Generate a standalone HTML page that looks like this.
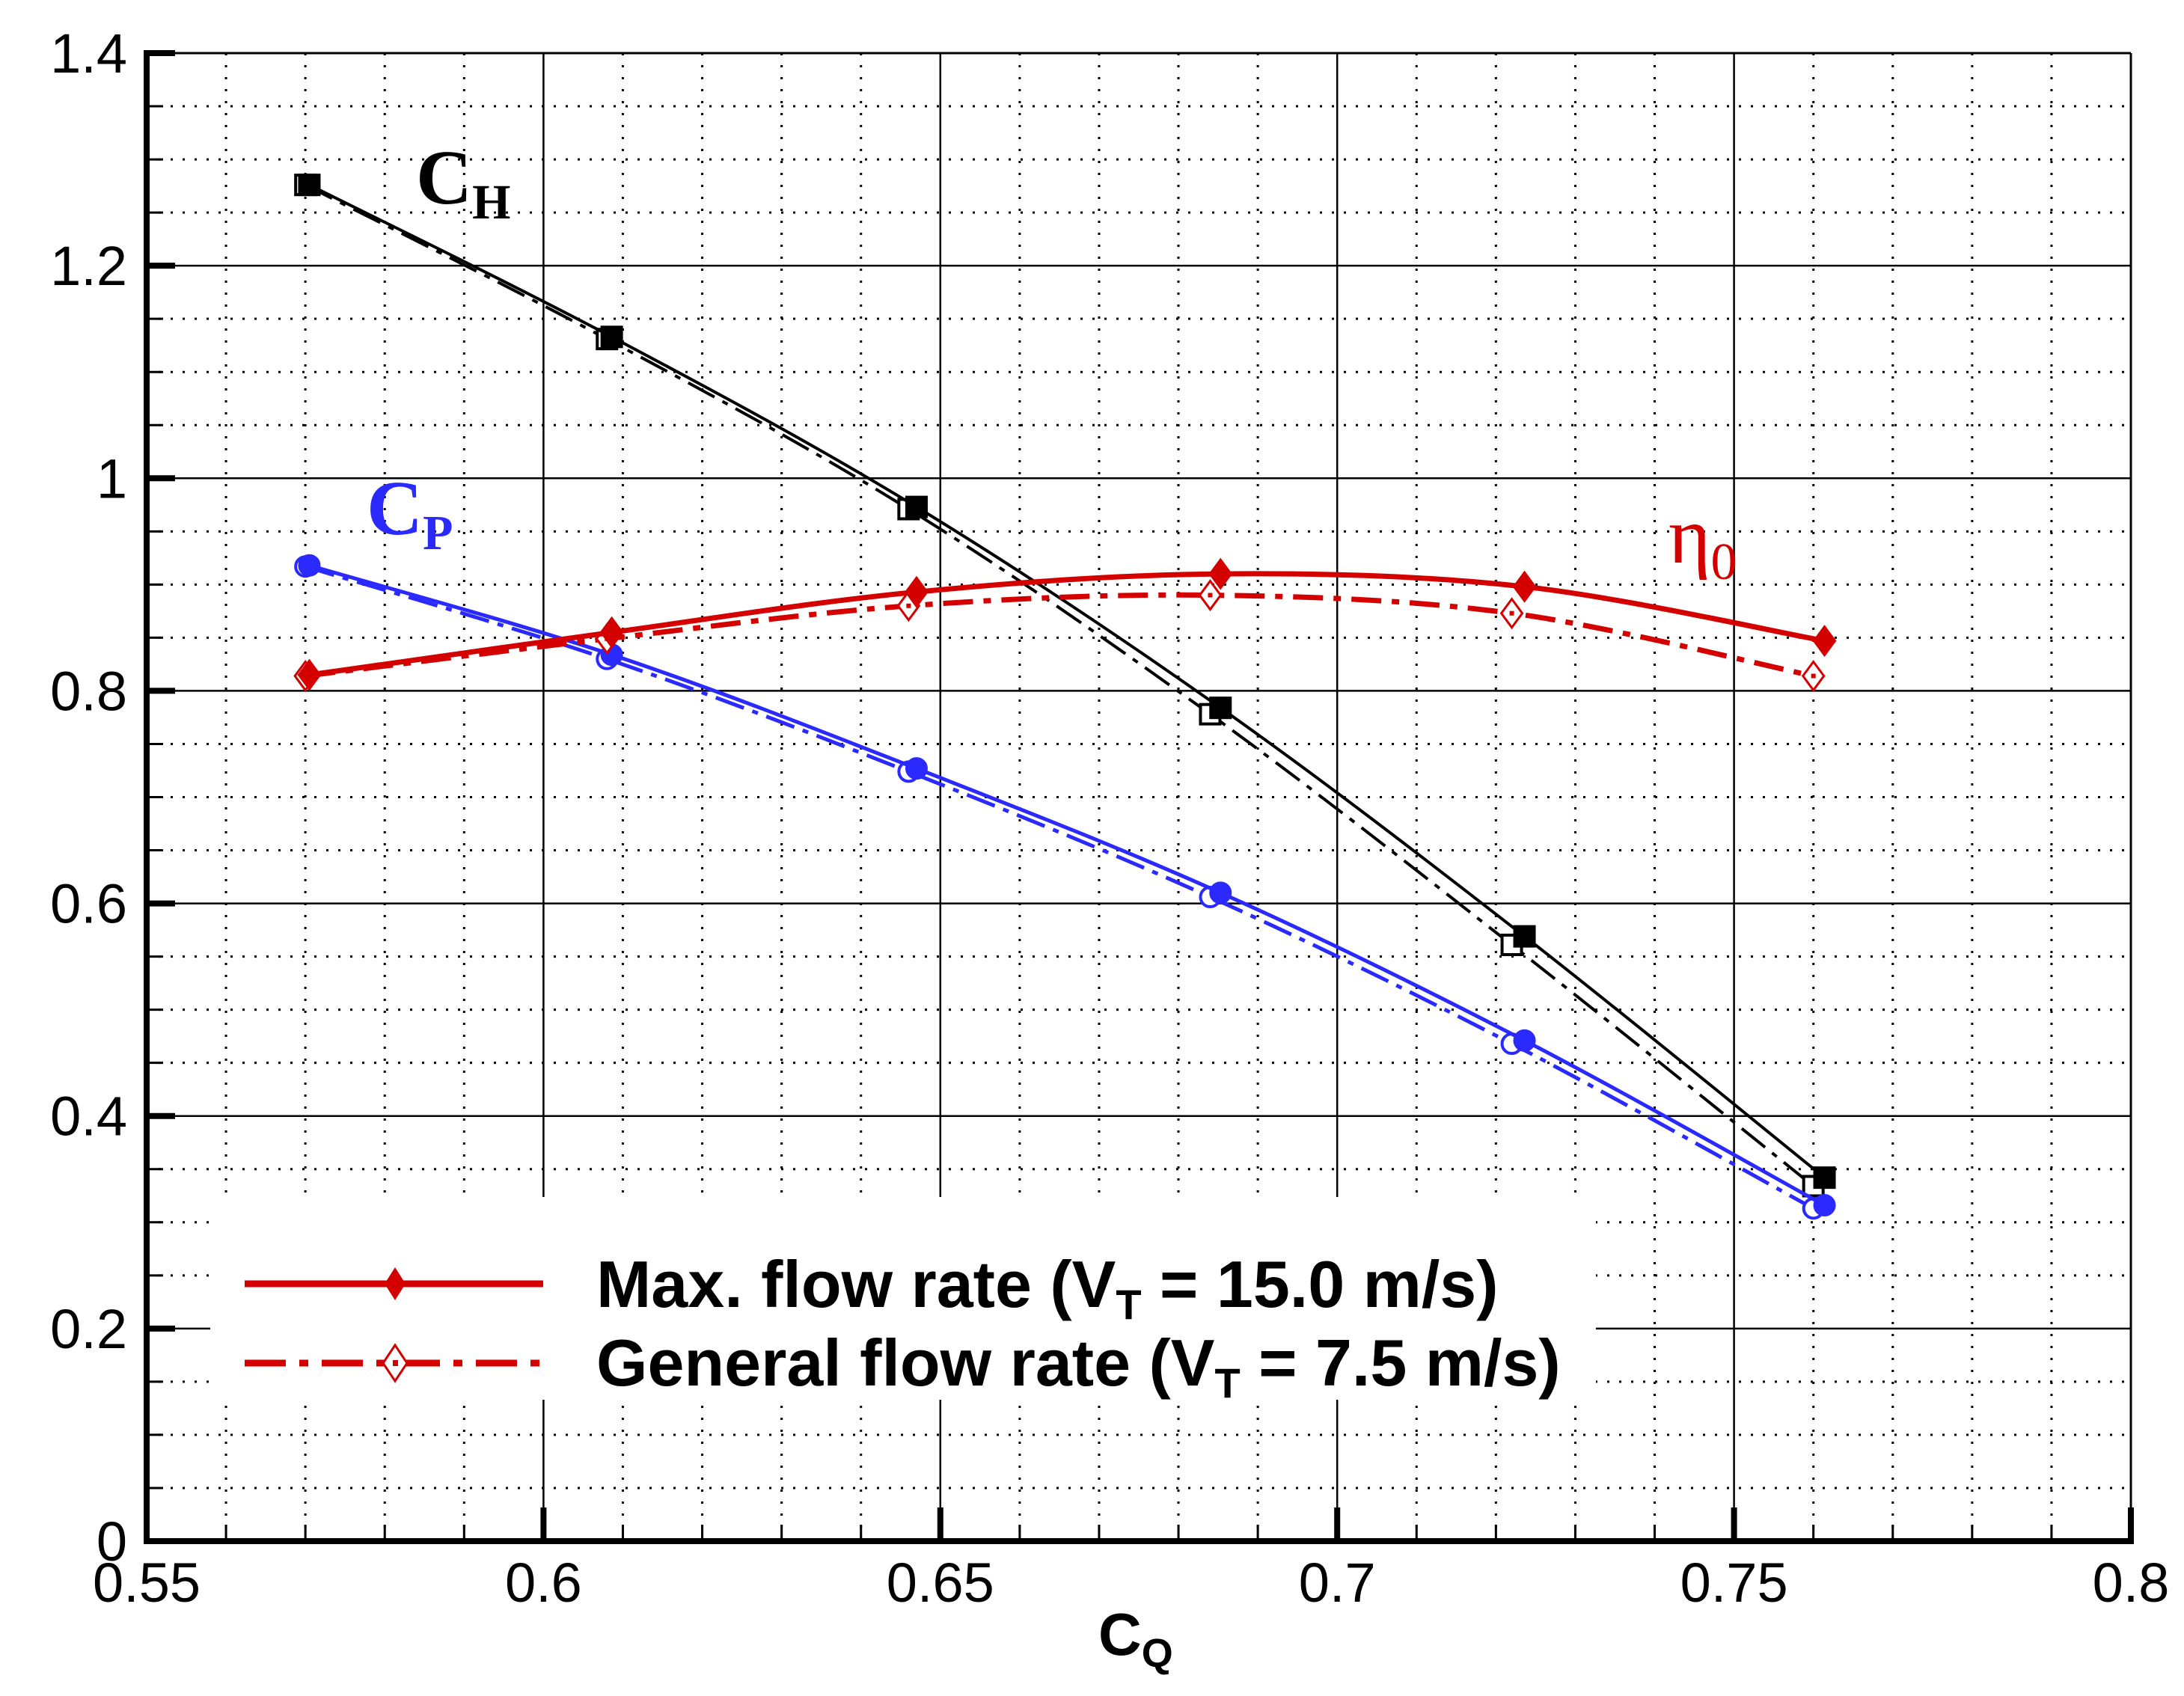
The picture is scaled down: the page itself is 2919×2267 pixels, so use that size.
<!DOCTYPE html>
<html><head><meta charset="utf-8"><style>
html,body{margin:0;padding:0;background:#fff;}
svg{display:block;}
.sans{font-family:"Liberation Sans",Arial,sans-serif;}
.serif{font-family:"Liberation Serif","Times New Roman",serif;}
</style></head><body>
<svg id="chart" width="2919" height="2267" viewBox="0 0 2919 2267" xmlns="http://www.w3.org/2000/svg">
<rect width="2919" height="2267" fill="#fff"/>
<g id="grid"></g>
<rect x="281" y="1600" width="1852" height="271" fill="#fff"/>
<g id="series"></g>
<g id="axes"></g>
<text class="serif" x="556" y="272" font-weight="bold" font-size="104" fill="#000">C<tspan font-size="66" dy="20">H</tspan></text>
<text class="serif" x="490" y="714" font-weight="bold" font-size="104" fill="#2a2aff">C<tspan font-size="66" dy="20">P</tspan></text>
<text class="serif" x="2230" y="752" font-size="108" fill="#d40000">η<tspan font-size="70" dy="22">0</tspan></text>
<text class="sans" x="1468" y="2212" font-weight="bold" font-size="80" fill="#000">C<tspan font-size="54" dy="16">Q</tspan></text>
<g>
  <line x1="327" y1="1716" x2="726" y2="1716" stroke="#d40000" stroke-width="9"/>
  <polygon points="528,1694 542,1716 528,1738 514,1716" fill="#d40000"/>
  <text class="sans" x="797" y="1747" font-weight="bold" font-size="88" fill="#000">Max. flow rate (V<tspan font-size="56" dy="16">T</tspan><tspan dy="-16"> = 15.0 m/s)</tspan></text>
  <line x1="327" y1="1822" x2="726" y2="1822" stroke="#d40000" stroke-width="9" stroke-dasharray="55,18,12,18"/>
  <polygon points="528,1798 544,1822 528,1846 512,1822" fill="#fff" stroke="#d40000" stroke-width="3"/>
  <rect x="525" y="1818" width="7" height="8" fill="#d40000"/>
  <text class="sans" x="797" y="1852" font-weight="bold" font-size="88" fill="#000">General flow rate (V<tspan font-size="56" dy="16">T</tspan><tspan dy="-16"> = 7.5 m/s)</tspan></text>
</g>
</svg>
<script>
const xTicks=[0.55,0.6,0.65,0.7,0.75,0.8];
const xTickLabels=["0.55","0.6","0.65","0.7","0.75","0.8"];
const yTicks=[0,0.2,0.4,0.6,0.8,1,1.2,1.4];
const yTickLabels=["0","0.2","0.4","0.6","0.8","1","1.2","1.4"];
const xMax=[0.5705,0.6086,0.647,0.6853,0.7236,0.7614];
const xGen=[0.570,0.608,0.646,0.684,0.722,0.760];
const chMax=[1.276,1.133,0.973,0.784,0.569,0.342];
const chGen=[1.276,1.131,0.971,0.778,0.561,0.334];
const cpMax=[0.918,0.834,0.727,0.610,0.471,0.316];
const cpGen=[0.917,0.830,0.724,0.606,0.468,0.313];
const etaMax=[0.815,0.855,0.893,0.910,0.898,0.847];
const etaGen=[0.814,0.849,0.880,0.890,0.873,0.814];

const L=196,R=2848,T=71,B=2060;
const X0=0.55,X1=0.8,Y0=0,Y1=1.4;
function sx(v){return L+(v-X0)/(X1-X0)*(R-L);}
function sy(v){return B-(v-Y0)/(Y1-Y0)*(B-T);}
const NS="http://www.w3.org/2000/svg";
function mk(tag,attrs,parent){const e=document.createElementNS(NS,tag);for(const k in attrs)e.setAttribute(k,attrs[k]);parent.appendChild(e);return e;}
const grid=document.getElementById('grid'),axes=document.getElementById('axes'),series=document.getElementById('series');

for(let i=1;i<25;i++){const v=X0+i*0.01;if(i%5===0)continue;
  const l=mk('line',{x1:sx(v),x2:sx(v),y1:T,y2:B,stroke:'#000','stroke-width':3,'stroke-dasharray':'3,13'},grid);
  
  
  mk('line',{x1:sx(v),x2:sx(v),y1:B-22,y2:B,stroke:'#000','stroke-width':3},axes);
}
for(let i=1;i<28;i++){const v=i*0.05;if(i%4===0)continue;
  const l=mk('line',{x1:L,x2:R,y1:sy(v),y2:sy(v),stroke:'#000','stroke-width':3,'stroke-dasharray':'3,13'},grid);
  
  
  mk('line',{x1:L,x2:L+22,y1:sy(v),y2:sy(v),stroke:'#000','stroke-width':3},axes);
}
xTicks.forEach((v,i)=>{
  const l=mk('line',{x1:sx(v),x2:sx(v),y1:T,y2:B,stroke:'#000','stroke-width':2.5},grid);
  
  
  mk('line',{x1:sx(v),x2:sx(v),y1:B-45,y2:B,stroke:'#000','stroke-width':8},axes);
  const t=mk('text',{x:sx(v),y:2141,'text-anchor':'middle','font-size':74,fill:'#000','class':'sans'},axes);
  t.textContent=xTickLabels[i];
  
  
});
yTicks.forEach((v,i)=>{
  const l=mk('line',{x1:L,x2:R,y1:sy(v),y2:sy(v),stroke:'#000','stroke-width':2.5},grid);
  
  
  mk('line',{x1:L,x2:L+38,y1:sy(v),y2:sy(v),stroke:'#000','stroke-width':8},axes);
  const t=mk('text',{x:170,y:sy(v)+26,'text-anchor':'end','font-size':74,fill:'#000','class':'sans'},axes);
  t.textContent=yTickLabels[i];
  
  
});
mk('line',{x1:L,x2:R,y1:T,y2:T,stroke:'#000','stroke-width':3},axes);
mk('line',{x1:R,x2:R,y1:T,y2:B,stroke:'#000','stroke-width':3},axes);
mk('line',{x1:L,x2:L,y1:T-4,y2:B+4,stroke:'#000','stroke-width':8},axes);
mk('line',{x1:L-4,x2:R+4,y1:B,y2:B,stroke:'#000','stroke-width':8},axes);

function pathD(xs,ys){
  const p=xs.map((x,i)=>[sx(x),sy(ys[i])]);
  let d='M'+p[0][0]+','+p[0][1];
  for(let i=0;i<p.length-1;i++){
    const p0=p[Math.max(0,i-1)],p1=p[i],p2=p[i+1],p3=p[Math.min(p.length-1,i+2)];
    const c1=[p1[0]+(p2[0]-p0[0])/6,p1[1]+(p2[1]-p0[1])/6];
    const c2=[p2[0]-(p3[0]-p1[0])/6,p2[1]-(p3[1]-p1[1])/6];
    d+=' C'+c1[0]+','+c1[1]+' '+c2[0]+','+c2[1]+' '+p2[0]+','+p2[1];
  }
  return d;
}
function drawSeries(name,xs,ys,color,width,dash,marker,filled){
  const g=mk('g',{},series);
  
  
  const a={d:pathD(xs,ys),fill:'none',stroke:color,'stroke-width':width};
  if(dash)a['stroke-dasharray']=dash;
  mk('path',a,g);
  xs.forEach((x,i)=>{
    const cx=sx(x),cy=sy(ys[i]);
    const f=filled?color:'#fff';
    let m;
    if(marker==='square')m=mk('rect',{x:cx-13,y:cy-13,width:26,height:26,fill:f,stroke:color,'stroke-width':4},g);
    else if(marker==='circle')m=mk('circle',{cx:cx,cy:cy,r:13,fill:f,stroke:color,'stroke-width':4},g);
    else {m=mk('polygon',{points:`${cx},${cy-19} ${cx+14},${cy} ${cx},${cy+19} ${cx-14},${cy}`,fill:f,stroke:color,'stroke-width':3},g);
      if(!filled)mk('rect',{x:cx-3,y:cy-3,width:6,height:6,fill:color},g);}
    
    
  });
}
drawSeries('ch-general',xGen,chGen,'#000',4,'40,12,8,12','square',false);
drawSeries('ch-max',xMax,chMax,'#000',4,null,'square',true);
drawSeries('cp-general',xGen,cpGen,'#2a2aff',5,'40,12,8,12','circle',false);
drawSeries('cp-max',xMax,cpMax,'#2a2aff',5,null,'circle',true);
drawSeries('eta-general',xGen,etaGen,'#d40000',7,'40,14,10,14','diamond',false);
drawSeries('eta-max',xMax,etaMax,'#d40000',7,null,'diamond',true);
</script>
</body></html>
